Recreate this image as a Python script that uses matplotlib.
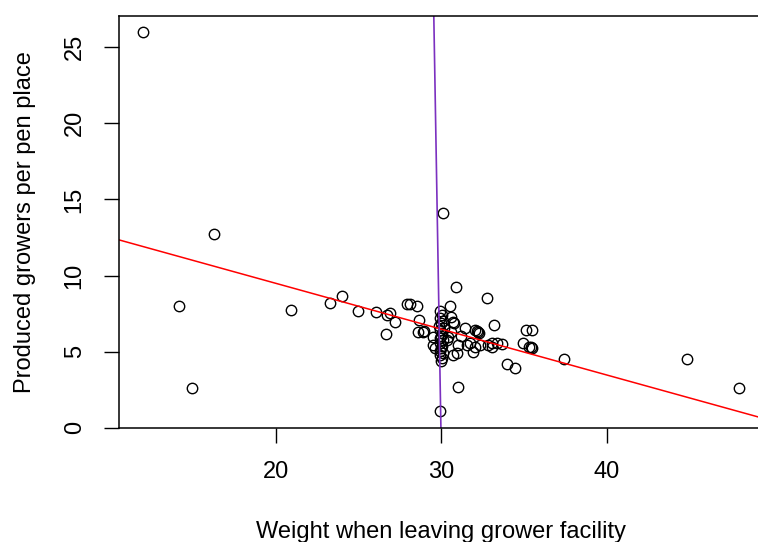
import matplotlib
matplotlib.use('Agg')
import matplotlib.pyplot as plt

plt.rcParams['font.family'] = ['Liberation Sans', 'DejaVu Sans']

# Вес при выходе с доращивания и выход поросят на место
weight = [11.96, 16.29, 14.14, 14.96, 20.91, 23.26, 23.99, 24.99, 26.04, 26.70,
          26.66, 26.90, 27.20, 27.90, 28.10, 28.52, 28.68, 28.60, 28.98, 28.88,
          29.93, 30.12, 30.92, 32.75, 30.53, 30.73, 31.44, 32.04, 32.24, 33.19,
          29.52, 30.43, 30.33, 31.03, 31.54, 31.74, 32.04, 32.35, 32.85, 33.05,
          30.94, 30.73, 29.63, 29.52, 31.03, 33.99, 34.48, 35.12, 35.46, 34.92,
          35.30, 35.50, 35.40, 33.05, 33.35, 33.66, 37.44, 44.87, 48.01, 30.57,
          30.77, 32.15, 32.30, 31.90, 31.20, 30.60,
          29.95, 30.05, 29.90, 30.10, 30.00, 29.85, 30.15, 29.95, 30.05, 30.00,
          29.90, 30.10, 29.95, 30.05, 30.00, 29.90, 30.10, 29.95, 30.05, 30.00]
produced = [26.02, 12.73, 8.02, 2.59, 7.72, 8.20, 8.68, 7.67, 7.63, 7.41,
            6.16, 7.52, 6.97, 8.10, 8.10, 8.00, 7.08, 6.31, 6.36, 6.27,
            1.12, 14.08, 9.23, 8.51, 8.00, 6.97, 6.54, 6.43, 6.31, 6.75,
            5.99, 5.99, 5.77, 5.44, 5.44, 5.55, 5.33, 5.44, 5.44, 5.33,
            4.90, 4.78, 5.22, 5.44, 2.70, 4.17, 3.95, 6.43, 6.43, 5.59,
            5.29, 5.22, 5.33, 5.55, 5.55, 5.50, 4.54, 4.54, 2.59, 7.30,
            6.86, 6.38, 6.20, 4.98, 6.00, 6.30,
            7.66, 7.40, 7.19, 7.00, 6.88, 6.70, 6.55, 6.40, 6.22, 6.05,
            5.90, 5.75, 5.57, 5.40, 5.24, 5.05, 4.92, 4.75, 4.59, 4.40]

# Линии регрессии (коэффициенты)
red_fit = (15.51, -0.301)       # y = a + b*x
purple_fit = (29.98, -0.0159)   # x = a + b*y

fig = plt.figure(figsize=(7.58, 5.42), dpi=100)
ax = fig.add_axes([119/758, 1 - 427.8/542, (763 - 119)/758, (427.8 - 16)/542])

ax.plot(weight, produced, 'o', mfc='none', mec='black', ms=7.5, mew=1.0)

ax.set_xlim(10.52, 49.45)
ax.set_ylim(0, 27.05)

ax.axline((0, red_fit[0]), slope=red_fit[1], color='red', lw=1.1)
ax.axline((purple_fit[0], 0), (purple_fit[0] + purple_fit[1] * 27, 27),
          color='#7B30C0', lw=1.2)

ax.set_xticks([20, 30, 40])
ax.set_yticks([0, 5, 10, 15, 20, 25])
ax.tick_params(axis='both', length=11, width=1.0, labelsize=17, pad=13)
for lab in ax.get_yticklabels():
    lab.set_rotation(90)
    lab.set_va('center')
for s in ax.spines.values():
    s.set_linewidth(1.1)

ax.set_xlabel('Weight when leaving grower facility', fontsize=17, labelpad=27)
ax.set_ylabel('Produced growers per pen place', fontsize=17, labelpad=20)

fig.savefig('out.png', dpi=100)
